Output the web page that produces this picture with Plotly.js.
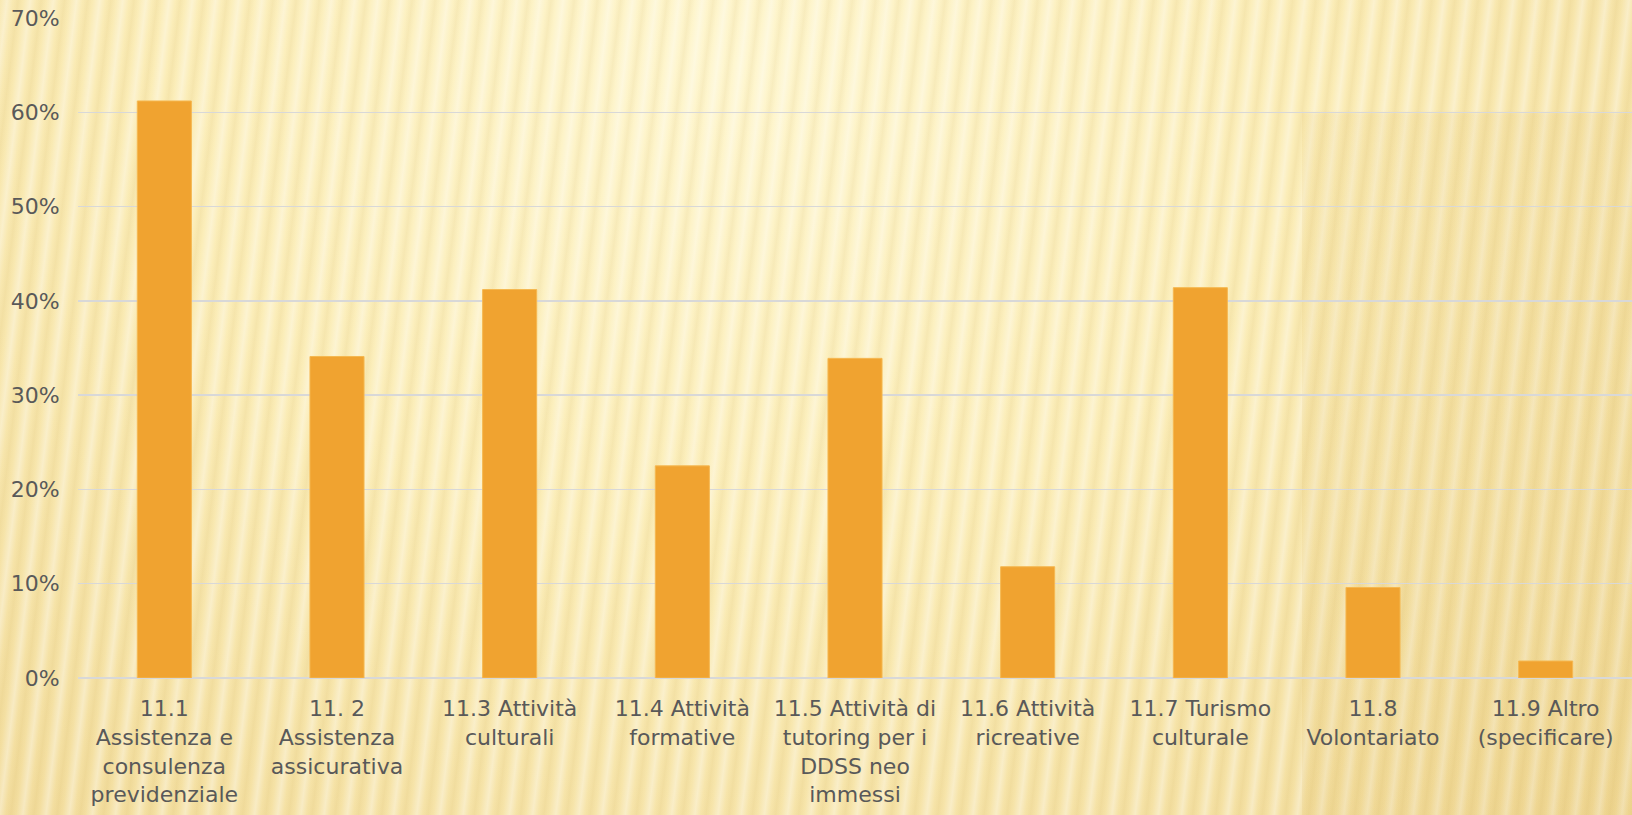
<!DOCTYPE html>
<html><head><meta charset="utf-8">
<script src="https://cdn.plot.ly/plotly-3.0.1.min.js"></script>
<style>
html,body{margin:0;padding:0;width:1632px;height:815px;overflow:hidden;}
body{
background:
 linear-gradient(180deg, rgba(0,0,0,0) 0px, rgba(0,0,0,0) 110px, rgba(215,175,80,0.10) 115px, rgba(215,175,80,0.12) 815px) right top / 330px 815px no-repeat,
 repeating-linear-gradient(97deg, rgba(255,255,255,0) 0px, rgba(255,255,255,0.35) 7px, rgba(255,255,255,0) 13px, rgba(190,150,50,0.09) 18px, rgba(255,255,255,0) 23px),
 radial-gradient(ellipse at 45% 8%, #FEF6CF 0%, #FBEDB8 45%, #F1DA99 100%);
}
#chart{width:1632px;height:815px;}
</style></head><body>
<div id="chart"></div>
<script>
const categories = [
 "11.1<br>Assistenza e<br>consulenza<br>previdenziale",
 "11. 2<br>Assistenza<br>assicurativa",
 "11.3 Attività<br>culturali",
 "11.4 Attività<br>formative",
 "11.5 Attività di<br>tutoring per i<br>DDSS neo<br>immessi",
 "11.6 Attività<br>ricreative",
 "11.7 Turismo<br>culturale",
 "11.8<br>Volontariato",
 "11.9 Altro<br>(specificare)"
];
const values = [0.612, 0.341, 0.412, 0.225, 0.339, 0.118, 0.414, 0.096, 0.018];
const yTickVals = [0,0.1,0.2,0.3,0.4,0.5,0.6,0.7];
const yTickText = ["0%","10%","20%","30%","40%","50%","60%","70%"];

const fam = "DejaVu Sans, Liberation Sans, sans-serif";
Plotly.newPlot("chart", [{
  type:"bar", x:categories, y:values,
  marker:{color:"#F0A330", line:{color:"#F5B850", width:1}},
  hoverinfo:"none"
}], {
  width:1632, height:815,
  paper_bgcolor:"rgba(0,0,0,0)", plot_bgcolor:"rgba(0,0,0,0)",
  margin:{l:78, r:0, t:18, b:137},
  bargap:0.687,
  showlegend:false,
  font:{family:fam, size:22, color:"#595959"},
  xaxis:{tickfont:{family:fam,size:22,color:"#595959"}, ticks:"outside", ticklen:11, tickcolor:"rgba(0,0,0,0)", showgrid:false, zeroline:false, showline:false, tickangle:0, automargin:false},
  yaxis:{range:[0,0.7], tickvals:yTickVals, ticktext:yTickText, tickfont:{family:fam,size:22,color:"#595959"},
    showgrid:true, gridcolor:"#D8D8D8", gridwidth:1.5, zeroline:true, zerolinecolor:"#D8D8D8", zerolinewidth:1.5,
    ticks:"outside", ticklen:13, tickcolor:"rgba(0,0,0,0)", showline:false, automargin:false}
}, {staticPlot:true});
</script>
</body></html>
